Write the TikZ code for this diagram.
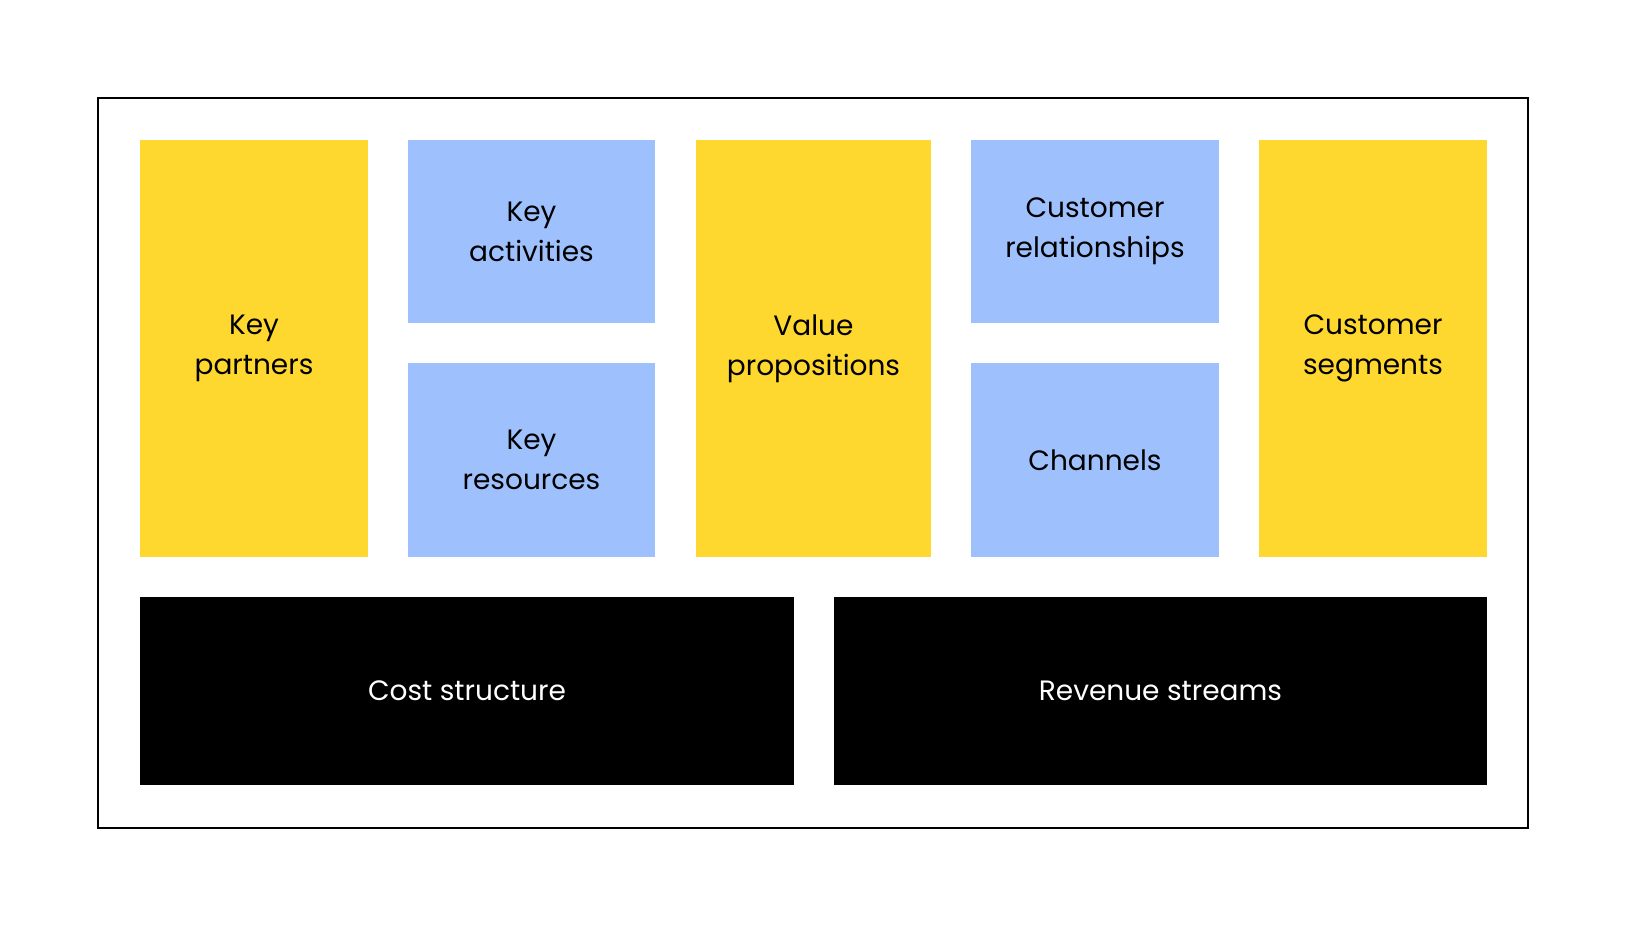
\documentclass[tikz,border=0pt]{standalone}
\usepackage{fontspec}
\setmainfont{Poppins}
\definecolor{ylw}{HTML}{FED82E}
\definecolor{blu}{HTML}{9EC1FE}
\begin{document}
\begin{tikzpicture}[x=1pt,y=-1pt,
  cell/.style={draw=none,inner sep=0pt,align=center,font=\fontsize{28}{40}\selectfont},
  yb/.style={cell,fill=ylw,text=black},
  bb/.style={cell,fill=blu,text=black},
  kb/.style={cell,fill=black,text=white}]
\useasboundingbox (0,0) rectangle (1628,928);
\draw[line width=2pt] (98,98) rectangle (1528,828);
\node[yb,minimum width=228pt,minimum height=417pt] (kp) at (254,348.5) {Key\\partners};
\node[bb,minimum width=247pt,minimum height=183pt] (ka) at (531.5,231.5) {Key\\activities};
\node[bb,minimum width=247pt,minimum height=194pt] (kr) at (531.5,460) {Key\\resources};
\node[yb,minimum width=235pt,minimum height=417pt] (vp) at (813.5,348.5) {Value\\propositions};
\node[bb,minimum width=248pt,minimum height=183pt] (cr) at (1095,231.5) {Customer\\relationships};
\node[bb,minimum width=248pt,minimum height=194pt] (ch) at (1095,460) {Channels};
\node[yb,minimum width=228pt,minimum height=417pt] (cs) at (1373,348.5) {Customer\\segments};
\node[kb,minimum width=654pt,minimum height=188pt] (cost) at (467,691) {Cost structure};
\node[kb,minimum width=653pt,minimum height=188pt] (rev) at (1160.5,691) {Revenue streams};
\end{tikzpicture}
\end{document}
